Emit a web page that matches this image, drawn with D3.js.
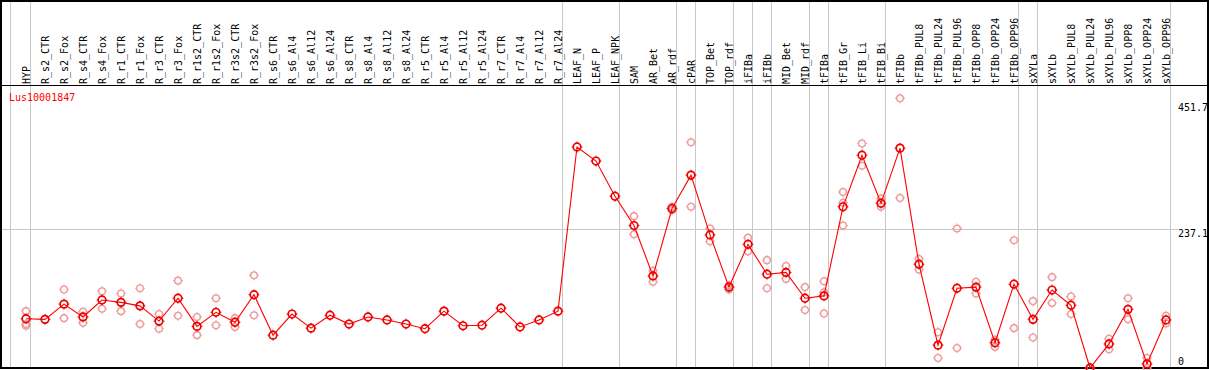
<!DOCTYPE html>
<html>
<head>
<meta charset="utf-8">
<script src="https://cdn.jsdelivr.net/npm/d3@7"></script>
<style>
  body { margin: 0; background: #fff; }
  text { font-family: "DejaVu Sans Mono", monospace; font-size: 10px; }
</style>
</head>
<body>
<div id="plot"></div>
<script>
// Sample names (columns)
const samples = ["HYP", "R_s2_CTR", "R_s2_Fox", "R_s4_CTR", "R_s4_Fox", "R_r1_CTR", "R_r1_Fox",
  "R_r3_CTR", "R_r3_Fox", "R_r1s2_CTR", "R_r1s2_Fox", "R_r3s2_CTR", "R_r3s2_Fox",
  "R_s6_CTR", "R_s6_Al4", "R_s6_Al12", "R_s6_Al24", "R_s8_CTR", "R_s8_Al4", "R_s8_Al12", "R_s8_Al24",
  "R_r5_CTR", "R_r5_Al4", "R_r5_Al12", "R_r5_Al24", "R_r7_CTR", "R_r7_Al4", "R_r7_Al12", "R_r7_Al24",
  "LEAF_N", "LEAF_P", "LEAF_NPK", "SAM", "AR_Bet", "AR_rdf", "cPAR", "TOP_Bet", "TOP_rdf",
  "iFIBa", "iFIBb", "MID_Bet", "MID_rdf", "tFIBa", "tFIB_Gr", "tFIB_Li", "tFIB_Bi", "tFIBb",
  "tFIBb_PUL8", "tFIBb_PUL24", "tFIBb_PUL96", "tFIBb_OPP8", "tFIBb_OPP24", "tFIBb_OPP96",
  "sXYLa", "sXYLb", "sXYLb_PUL8", "sXYLb_PUL24", "sXYLb_PUL96", "sXYLb_OPP8", "sXYLb_OPP24", "sXYLb_OPP96"];

// Mean expression per sample
const means = [84, 83, 109, 87, 116, 112, 106, 80, 119, 71, 95, 78, 125,
  56, 92, 68, 90, 75, 87, 82, 75, 67, 97, 72, 73, 102, 70, 82, 97,
  377, 353, 293, 243, 157, 272, 329, 227, 138,
  211, 160, 163, 119, 123, 275, 363, 281, 375,
  177, 39, 136, 138, 43, 143,
  83, 133, 107, 0, 41, 100, 7, 82];

// Replicate values per sample (empty = no replicates shown)
const reps = [[97, 75, 72], [], [134, 85], [96, 77], [131, 101], [127, 97], [136, 75],
  [92, 67], [149, 89], [87, 56], [119, 73], [85, 70], [158, 90],
  [], [], [], [], [], [], [], [], [], [], [], [], [], [], [], [],
  [], [], [], [259, 228], [166, 147], [269, 275], [385, 275], [238, 216], [134, 141],
  [222, 199], [184, 136], [174, 152], [138, 99], [148, 129, 93], [300, 282, 243], [383, 345], [289, 275], [460, 290],
  [186, 168], [61, 17], [238, 34], [147, 127], [48, 36], [218, 68],
  [114, 52], [155, 111], [122, 92], [0, 0], [50, 32], [119, 83], [17, 0], [89, 76]];

// Group dividers are drawn after these samples
const dividers = ["HYP", "R_r7_Al24", "LEAF_NPK", "AR_rdf", "cPAR", "TOP_rdf", "iFIBa", "iFIBb",
  "MID_rdf", "tFIBa", "tFIB_Bi", "tFIBb_OPP96", "sXYLa", "sXYLb_OPP96"];

const yTicks = [0, 237.1, 451.7];
const geneName = "Lus10001847";

const width = 1209;
const height = 370;

const svg = d3.select("#plot")
  .append("svg")
  .attr("width", width)
  .attr("height", height);

const x = d3.scalePoint()
  .domain(samples)
  .range([26, 1166]);

const y = d3.scaleLinear()
  .domain([0, 474.2])
  .range([368, 90]);

const grey = "#c8c8c8";

// vertical dividers (plus one at the far left)
svg.append("line")
  .attr("x1", 10.5).attr("x2", 10.5)
  .attr("y1", 0).attr("y2", 369)
  .attr("stroke", grey);

svg.selectAll(".divider")
  .data(dividers)
  .enter().append("line")
  .attr("class", "divider")
  .attr("x1", d => Math.round(x(d) + 4) + 0.5)
  .attr("x2", d => Math.round(x(d) + 4) + 0.5)
  .attr("y1", 0)
  .attr("y2", 369)
  .attr("stroke", grey);

// horizontal grid line at the middle tick
svg.append("line")
  .attr("x1", 1).attr("x2", 1178)
  .attr("y1", Math.round(y(yTicks[1])) + 0.5)
  .attr("y2", Math.round(y(yTicks[1])) + 0.5)
  .attr("stroke", grey);

// header separator and frame
svg.append("line")
  .attr("x1", 0).attr("x2", width)
  .attr("y1", 85.5).attr("y2", 85.5)
  .attr("stroke", "#000");

svg.append("rect")
  .attr("x", 1).attr("y", 1)
  .attr("width", 1207).attr("height", 367)
  .attr("fill", "none")
  .attr("stroke", "#000")
  .attr("stroke-width", 2);

// rotated sample labels
svg.selectAll(".sample-label")
  .data(samples)
  .enter().append("text")
  .attr("class", "sample-label")
  .attr("transform", d => `translate(${Math.round(x(d)) + 3.6},84) rotate(-90)`)
  .attr("fill", "#000")
  .text(d => d);

// y labels on the right
svg.selectAll(".y-label")
  .data(yTicks)
  .enter().append("text")
  .attr("class", "y-label")
  .attr("x", 1178)
  .attr("y", d => d === 0 ? 364.5 : y(d) + 8)
  .attr("fill", "#000")
  .text(d => d);

// gene name
svg.append("text")
  .attr("x", 9)
  .attr("y", 101)
  .attr("fill", "#ff0000")
  .text(geneName);

// small circle marker with cardinal ticks
const marker = (sel, color, r, sw) => {
  sel.append("circle")
    .attr("r", r)
    .attr("fill", "none")
    .attr("stroke", color)
    .attr("stroke-width", sw);
  sel.append("path")
    .attr("d", `M0,${-r - 1.6}V${-r + 0.5}M0,${r - 0.5}V${r + 1.6}M${-r - 1.6},0H${-r + 0.5}M${r - 0.5},0H${r + 1.6}`)
    .attr("stroke", color)
    .attr("stroke-width", 1);
};

// replicate points
const repPoints = [];
reps.forEach((vals, i) => vals.forEach(v => repPoints.push({ s: samples[i], v: v })));

svg.selectAll(".rep")
  .data(repPoints)
  .enter().append("g")
  .attr("class", "rep")
  .attr("transform", d => `translate(${x(d.s)},${y(d.v)})`)
  .call(marker, "#f09a9a", 3.4, 1.3);

// mean line
const meanData = samples.map((s, i) => ({ s: s, v: means[i] }));

svg.append("path")
  .datum(meanData)
  .attr("fill", "none")
  .attr("stroke", "#ff0000")
  .attr("stroke-width", 1.1)
  .attr("d", d3.line().x(d => x(d.s)).y(d => y(d.v)));

svg.selectAll(".mean")
  .data(meanData)
  .enter().append("g")
  .attr("class", "mean")
  .attr("transform", d => `translate(${x(d.s)},${y(d.v)})`)
  .call(marker, "#ee0000", 3.8, 1.7);
</script>
</body>
</html>
